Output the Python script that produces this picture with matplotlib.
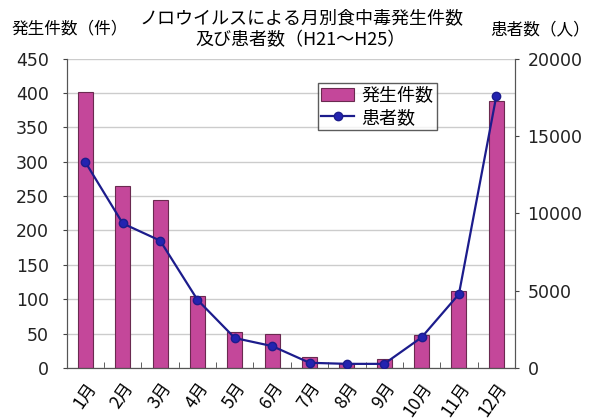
import matplotlib
matplotlib.use("Agg")
import matplotlib.pyplot as plt
import numpy as np

plt.rcParams['font.family'] = ['Noto Sans CJK JP', 'DejaVu Sans']

# data
months = ['1月', '2月', '3月', '4月', '5月', '6月', '7月', '8月', '9月', '10月', '11月', '12月']
cases = [401, 265, 244, 105, 52, 50, 16, 7, 13, 48, 112, 388]
patients = [13300, 9340, 8230, 4400, 1930, 1410, 330, 260, 260, 1970, 4770, 17570]

fig = plt.figure(figsize=(5.96, 4.19), dpi=100)
ax = fig.add_axes([0.112, 0.122, 0.752, 0.738])
ax2 = ax.twinx()

x = np.arange(len(months))
ax.bar(x, cases, width=0.4, color='#c4479a', edgecolor='#6a2a50', linewidth=0.8,
       label='発生件数', zorder=2)
ax2.plot(x, patients, color='#1c1c8c', linewidth=1.6, marker='o', markersize=6,
         markerfacecolor='#2323b0', markeredgecolor='#1c1c8c', label='患者数', zorder=3)

ax.set_xlim(-0.5, 11.5)
ax.set_ylim(0, 450)
ax.set_yticks(range(0, 451, 50))
ax2.set_ylim(0, 20000)
ax2.set_yticks(range(0, 20001, 5000))

ax.yaxis.grid(True, color='#cccccc', linewidth=1.0, zorder=0)
ax.set_axisbelow(True)

ax.set_xticks(x)
ax.set_xticklabels(months, rotation=55, ha='right', rotation_mode='anchor', fontsize=12.5)
ax.tick_params(axis='x', length=0, pad=8)
ax.set_xticks(np.arange(0.5, 11.5, 1), minor=True)
ax.tick_params(axis='x', which='minor', direction='in', length=4, color='#444444')

ax.tick_params(axis='y', labelsize=12.5, length=3, pad=10, color='#444444')
ax2.tick_params(axis='y', labelsize=12.5, length=3, pad=6, color='#444444')
for lab in ax.get_yticklabels() + ax2.get_yticklabels():
    lab.set_fontfamily('DejaVu Sans')
    lab.set_color('#222222')

for a in (ax, ax2):
    a.spines['top'].set_visible(False)
    for s in ('left', 'right', 'bottom'):
        a.spines[s].set_color('#555555')

# legend combining both series
h1, l1 = ax.get_legend_handles_labels()
h2, l2 = ax2.get_legend_handles_labels()
leg = ax2.legend(h1 + h2, l1 + l2, loc='upper left', bbox_to_anchor=(0.56, 0.92),
                 fontsize=13, frameon=True, fancybox=False, edgecolor='#333333',
                 handlelength=1.8, borderpad=0.2, labelspacing=0.2, handletextpad=0.4,
                 borderaxespad=0)
leg.get_frame().set_linewidth(1.0)

fig.text(0.505, 0.955, 'ノロウイルスによる月別食中毒発生件数', ha='center', va='center', fontsize=13)
fig.text(0.505, 0.905, '及び患者数（H21～H25）', ha='center', va='center', fontsize=13)
fig.text(0.02, 0.93, '発生件数（件）', ha='left', va='center', fontsize=12)
fig.text(0.99, 0.93, '患者数（人）', ha='right', va='center', fontsize=12)

fig.savefig('out.png', dpi=100)
